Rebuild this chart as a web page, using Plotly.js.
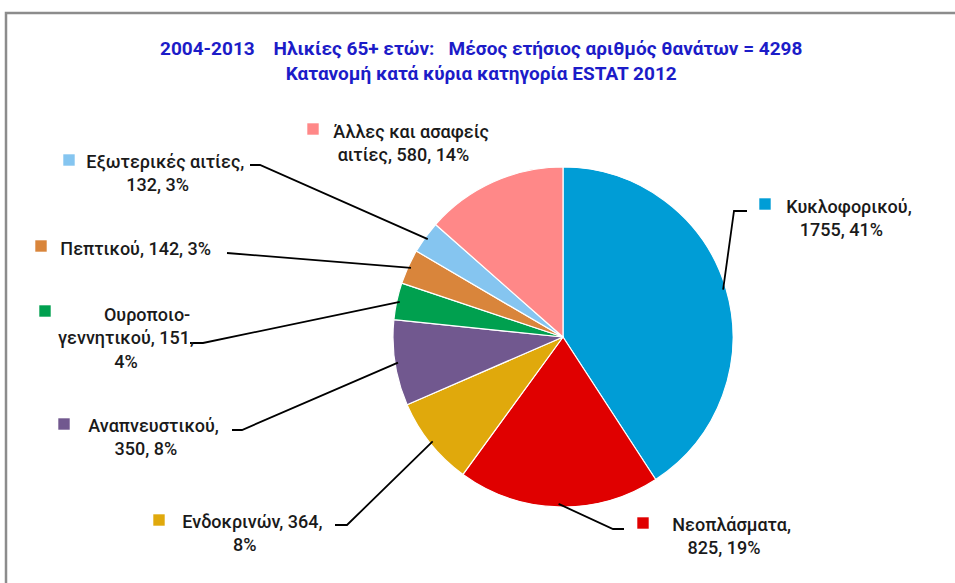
<!DOCTYPE html>
<html>
<head>
<meta charset="utf-8">
<script src="https://cdn.plot.ly/plotly-3.0.1.min.js"></script>
<style>html,body{margin:0;padding:0;background:#fff;}#chart{width:955px;height:583px;}</style>
</head>
<body>
<div id="chart"></div>
<script>
// ---- data ----
const categories = ["Κυκλοφορικού", "Νεοπλάσματα", "Ενδοκρινών", "Αναπνευστικού",
                    "Ουροποιο-γεννητικού", "Πεπτικού", "Εξωτερικές αιτίες", "Άλλες και ασαφείς αιτίες"];
const deaths = [1755, 825, 364, 350, 151, 142, 132, 580];
const percentLabels = ["41%", "19%", "8%", "8%", "4%", "3%", "3%", "14%"];
const colors = ["#009DD6", "#E00000", "#E0A90C", "#71588F", "#00A04F", "#D9853B", "#85C5F0", "#FF8888"];
const titleLines = ["2004-2013    Ηλικίες 65+ ετών:   Μέσος ετήσιος αριθμός θανάτων = 4298",
                    "Κατανομή κατά κύρια κατηγορία ESTAT 2012"];

// ---- layout (pixel positions of labels / keys / leader-line elbows) ----
const W = 955, H = 583;
const cx = 563, cy = 337, R = 170;
const labelPos = [[841, 218], [724, 536], [244, 533], [146, 437], [126, 338], [128, 248], [157, 173], [403, 143]];
const keyPos   = [[759, 198], [637, 517], [153, 514], [58, 418], [39, 305], [35, 240], [63, 154], [307, 123]];
const elbows   = [[[734, 211], [747, 211]], [[613, 529], [624, 529]], [[347, 525], [335, 525]],
                  [[242, 430], [232, 430]], [[203, 343], [190, 343]], [[227, 253]],
                  [[260, 165], [250, 165]], null];

// transparent placeholder where the colour key goes (the key itself is a shape)
const ph = '<span style="color:rgba(0,0,0,0)">■</span>';
function labelText(i) {
  const n = categories[i], v = deaths[i], p = percentLabels[i];
  switch (i) {
    case 0: case 1: case 3: case 6: return ph + ' ' + n + ',<br>' + v + ', ' + p;
    case 2: return ph + ' ' + n + ', ' + v + ',<br>' + p;
    case 4: { const parts = n.split('-');
      return ph + '       ' + parts[0] + '-<br>' + parts[1] + ', ' + v + ',<br>' + p; }
    case 5: return ph + ' ' + n + ', ' + v + ', ' + p;
    case 7: { const w = n.split(' ');
      return ph + ' ' + w.slice(0, 3).join(' ') + '<br>' + w[3] + ', ' + v + ', ' + p; }
  }
}

const total = deaths.reduce((a, b) => a + b, 0);
const shapes = [];
let cum = 0;
deaths.forEach((v, i) => {
  const mid = (cum + v / 2) / total * 2 * Math.PI;
  cum += v;
  shapes.push({type: 'rect', xref: 'x', yref: 'y', x0: keyPos[i][0], y0: keyPos[i][1],
               x1: keyPos[i][0] + 12, y1: keyPos[i][1] + 12,
               fillcolor: colors[i], line: {color: 'rgba(255,255,255,0.6)', width: 1}});
  if (!elbows[i]) return;
  const ex = cx + (R - 3) * Math.sin(mid), ey = cy - (R - 3) * Math.cos(mid);
  let d = 'M' + ex + ',' + ey;
  elbows[i].forEach(p => { d += ' L' + p[0] + ',' + p[1]; });
  shapes.push({type: 'path', xref: 'x', yref: 'y', path: d, line: {color: '#000', width: 1.8}});
});
// outer frame
shapes.push({type: 'rect', xref: 'x', yref: 'y', x0: 6, y0: 13, x1: 975, y1: 600,
             line: {color: '#8c8c8c', width: 2.5}});

const annotations = categories.map((c, i) => ({
  xref: 'x', yref: 'y', x: labelPos[i][0], y: labelPos[i][1], text: labelText(i),
  showarrow: false, align: 'center', xanchor: 'center', yanchor: 'middle',
  font: {family: 'Roboto, sans-serif', size: 18, color: '#1a1a1a', weight: 500}
}));
annotations.push({
  xref: 'x', yref: 'y', x: 481, y: 61, text: '<b>' + titleLines.join('<br>') + '</b>',
  showarrow: false, align: 'center', xanchor: 'center', yanchor: 'middle',
  font: {family: 'Roboto, sans-serif', size: 19, color: '#1C1CC8'}
});

const pie = {
  type: 'pie', values: deaths, labels: categories, sort: false, direction: 'clockwise',
  rotation: 0, textinfo: 'none', hoverinfo: 'label+value+percent',
  marker: {colors: colors, line: {color: '#ffffff', width: 1.2}},
  domain: {x: [(cx - R) / W, (cx + R) / W], y: [(H - cy - R) / H, (H - cy + R) / H]},
  showlegend: false
};
const dummy = {type: 'scatter', x: [0, W], y: [0, H], mode: 'markers',
               marker: {opacity: 0}, hoverinfo: 'skip', showlegend: false};

const layout = {
  width: W, height: H, margin: {l: 0, r: 0, t: 0, b: 0},
  paper_bgcolor: '#ffffff', plot_bgcolor: 'rgba(0,0,0,0)',
  xaxis: {range: [0, W], visible: false, fixedrange: true},
  yaxis: {range: [H, 0], visible: false, fixedrange: true},
  shapes: shapes, annotations: annotations, showlegend: false
};
Plotly.newPlot('chart', [dummy, pie], layout, {displayModeBar: false, staticPlot: true});
</script>
</body>
</html>
